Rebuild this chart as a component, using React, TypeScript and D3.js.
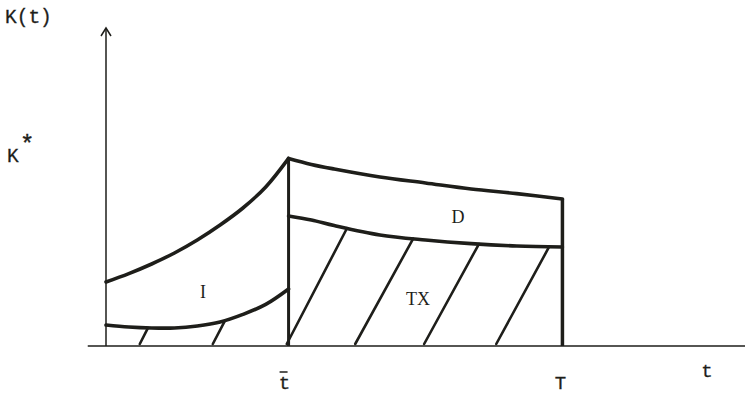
import React from "react";
import * as d3 from "d3";

// time grid (t) and curve values K(t)
const tI = [0, 0.5, 1, 1.5, 2, 2.5, 3, 3.5, 4];
const upperI = [3.2, 3.62, 4.1, 4.65, 5.3, 6.05, 6.9, 7.95, 9.38];
const lowerI = [1.05, 0.95, 0.9, 0.9, 1.0, 1.2, 1.58, 2.08, 2.85];

const tD = [4, 4.5, 5, 6, 7, 8, 9, 10];
const upperD = [9.38, 9.08, 8.85, 8.45, 8.15, 7.85, 7.62, 7.35];
const lowerD = [6.5, 6.3, 6.02, 5.55, 5.3, 5.12, 5.0, 4.95];

const tBar = 4;
const tEnd = 10;

// hatch lines: start t on the axis, end t on the lower curve
const hatchIStart = [0.74, 2.34];
const hatchIEnd = [0.92, 2.61];
const hatchTXStart = [3.96, 5.46, 6.97, 8.55];
const hatchTXEnd = [5.28, 6.73, 8.17, 9.71];

const W = 745;
const H = 395;

export default function App() {
  const x = d3.scaleLinear().domain([0, 14]).range([106, 745]);
  const y = d3.scaleLinear().domain([0, 15.9]).range([346, 28]);

  const line = d3
    .line<[number, number]>()
    .x((d) => x(d[0]))
    .y((d) => y(d[1]))
    .curve(d3.curveCatmullRom.alpha(0.5));

  const zip = (ts: number[], ks: number[]) =>
    ts.map((t, i) => [t, ks[i]] as [number, number]);

  const interp = (ts: number[], ks: number[], t: number) =>
    d3.scaleLinear().domain(ts).range(ks).clamp(true)(t);

  const mono = "'Liberation Mono', 'DejaVu Sans Mono', monospace";
  const serif = "'Liberation Serif', 'DejaVu Serif', serif";
  const ink = "#1e1e1a";

  const hatch = (starts: number[], ends: number[], ts: number[], ks: number[]) =>
    starts.map((s, i) => (
      <line
        key={`h${s}`}
        x1={x(s)}
        y1={y(0) - 2}
        x2={x(ends[i])}
        y2={y(interp(ts, ks, ends[i]))}
        stroke={ink}
        strokeWidth={2.6}
        strokeLinecap="round"
      />
    ));

  return (
    <svg
      width={W}
      height={H}
      style={{ position: "absolute", left: 0, top: 0, background: "#fff" }}
    >
      {/* axes */}
      <line x1={x(-0.4)} y1={y(0)} x2={x(14)} y2={y(0)} stroke={ink} strokeWidth={1.5} />
      <line x1={x(0)} y1={y(0)} x2={x(0)} y2={y(15.9)} stroke={ink} strokeWidth={1.5} />
      <path
        d={`M${x(0) - 5},${y(15.9) + 8} L${x(0)},${y(15.9)} L${x(0) + 5},${y(15.9) + 8}`}
        fill="none"
        stroke={ink}
        strokeWidth={1.5}
      />

      {/* hatching */}
      {hatch(hatchIStart, hatchIEnd, tI, lowerI)}
      {hatch(hatchTXStart, hatchTXEnd, tD, lowerD)}

      {/* verticals */}
      <line x1={x(tBar)} y1={y(0)} x2={x(tBar)} y2={y(upperI[upperI.length - 1])} stroke={ink} strokeWidth={3} />
      <line x1={x(tEnd)} y1={y(0)} x2={x(tEnd)} y2={y(upperD[upperD.length - 1])} stroke={ink} strokeWidth={3.5} />

      {/* curves */}
      {[zip(tI, upperI), zip(tI, lowerI), zip(tD, upperD), zip(tD, lowerD)].map((d, i) => (
        <path key={i} d={line(d) ?? ""} fill="none" stroke={ink} strokeWidth={3.6} strokeLinecap="round" />
      ))}

      {/* labels */}
      <text x={5} y={23} fontFamily={mono} fontSize={19.5} fill={ink} stroke={ink} strokeWidth={0.3}>K(t)</text>
      <text x={7} y={162} fontFamily={mono} fontSize={19.5} fill={ink} stroke={ink} strokeWidth={0.3}>K</text>
      <text x={20} y={152} fontFamily={mono} fontSize={24} fill={ink} stroke={ink} strokeWidth={0.4}>*</text>
      <text x={203} y={298} fontFamily={serif} fontSize={18} fill={ink} textAnchor="middle">I</text>
      <text x={458} y={223} fontFamily={serif} fontSize={18} fill={ink} textAnchor="middle">D</text>
      <text x={418} y={305} fontFamily={serif} fontSize={18} fill={ink} textAnchor="middle">TX</text>
      <text x={x(tBar) - 4} y={389} fontFamily={mono} fontSize={19} fill={ink} stroke={ink} strokeWidth={0.3} textAnchor="middle">t</text>
      <line x1={x(tBar) - 9} y1={372} x2={x(tBar) - 1} y2={372} stroke={ink} strokeWidth={1.5} />
      <text x={x(tEnd) - 2} y={389} fontFamily={mono} fontSize={19} fill={ink} stroke={ink} strokeWidth={0.3} textAnchor="middle">T</text>
      <text x={707} y={377} fontFamily={mono} fontSize={19} fill={ink} stroke={ink} strokeWidth={0.3} textAnchor="middle">t</text>
    </svg>
  );
}
